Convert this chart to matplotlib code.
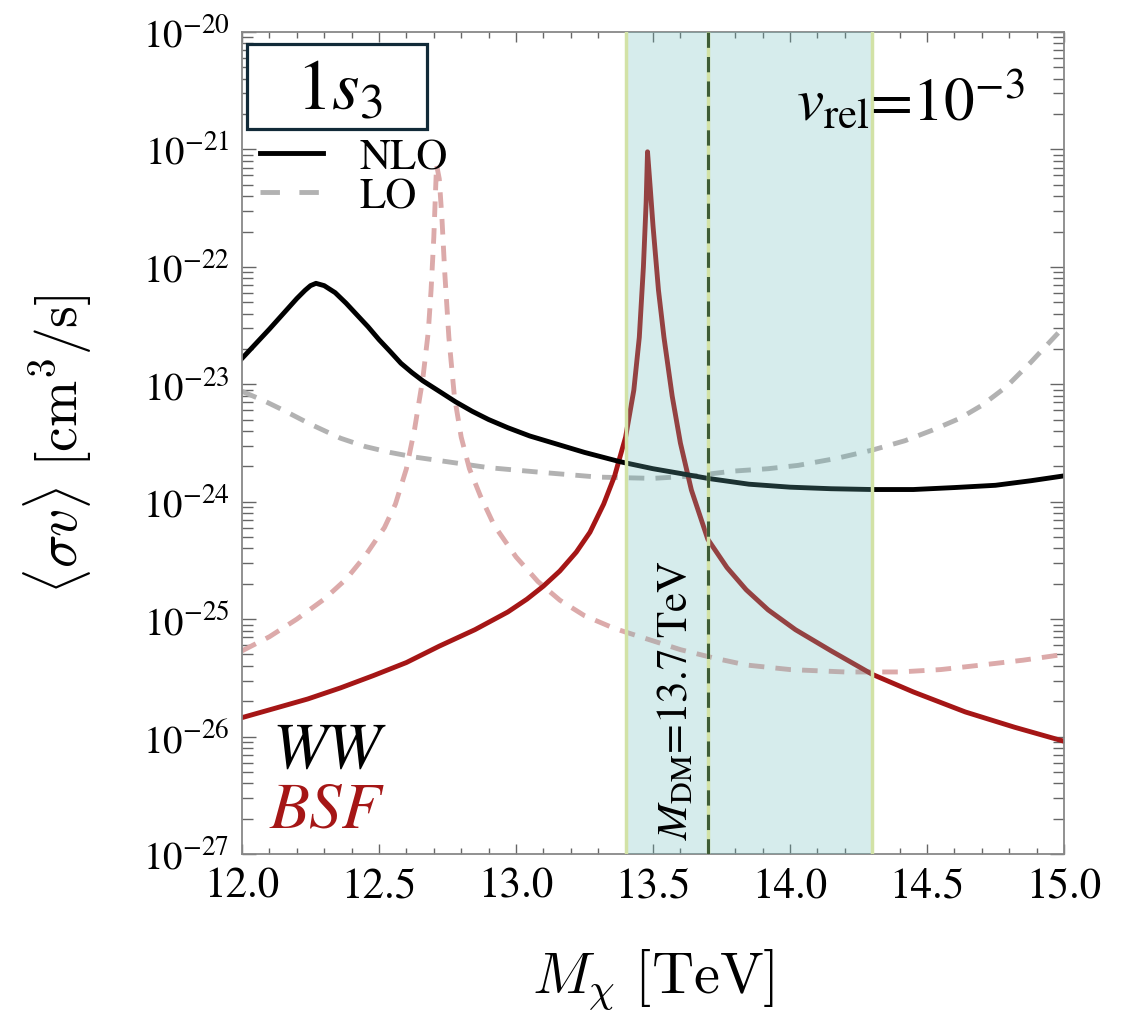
import matplotlib.pyplot as plt
import numpy as np
from matplotlib.patches import Rectangle
from matplotlib.lines import Line2D
from matplotlib.ticker import MultipleLocator, LogLocator, NullFormatter, FormatStrFormatter

plt.rcParams['font.family'] = 'STIXGeneral'
plt.rcParams['mathtext.fontset'] = 'stix'

# WW annihilation, NLO (solid black)
m_ww_nlo = [12.00, 12.10, 12.20, 12.23, 12.25, 12.27, 12.30, 12.34, 12.38, 12.42, 12.46, 12.50,
            12.54, 12.58, 12.62, 12.66, 12.72, 12.78, 12.84, 12.90, 12.97, 13.05, 13.15, 13.25,
            13.38, 13.50, 13.60, 13.70, 13.85, 14.00, 14.15, 14.30, 14.45, 14.60, 14.75, 14.88, 15.00]
sv_ww_nlo = [1.66e-23, 2.95e-23, 5.37e-23, 6.31e-23, 6.92e-23, 7.24e-23, 6.92e-23, 6.03e-23,
             4.90e-23, 3.89e-23, 3.09e-23, 2.40e-23, 1.91e-23, 1.51e-23, 1.26e-23, 1.07e-23,
             8.71e-24, 7.08e-24, 5.89e-24, 5.01e-24, 4.27e-24, 3.63e-24, 3.09e-24, 2.63e-24,
             2.19e-24, 1.91e-24, 1.74e-24, 1.58e-24, 1.41e-24, 1.33e-24, 1.29e-24, 1.27e-24,
             1.27e-24, 1.32e-24, 1.38e-24, 1.51e-24, 1.66e-24]

# WW annihilation, LO (dashed grey)
m_ww_lo = [12.00, 12.08, 12.15, 12.25, 12.36, 12.45, 12.54, 12.63, 12.72, 12.90, 13.09, 13.30,
           13.50, 13.65, 13.79, 13.92, 14.03, 14.17, 14.30, 14.42, 14.52, 14.62, 14.70, 14.79,
           14.88, 14.94, 15.00]
sv_ww_lo = [8.71e-24, 7.24e-24, 6.03e-24, 4.57e-24, 3.47e-24, 2.95e-24, 2.63e-24, 2.40e-24,
            2.24e-24, 1.95e-24, 1.78e-24, 1.62e-24, 1.58e-24, 1.66e-24, 1.82e-24, 1.91e-24,
            2.04e-24, 2.34e-24, 2.75e-24, 3.31e-24, 4.07e-24, 5.13e-24, 6.61e-24, 9.55e-24,
            1.55e-23, 2.19e-23, 3.09e-23]

# bound-state formation, NLO (solid red)
m_bsf_nlo = [12.00, 12.12, 12.24, 12.36, 12.48, 12.60, 12.72, 12.85, 12.97, 13.04, 13.10, 13.16,
             13.22, 13.27, 13.32, 13.36, 13.40, 13.43, 13.45, 13.465, 13.475, 13.48, 13.49, 13.50,
             13.52, 13.54, 13.57, 13.60, 13.64, 13.70, 13.77, 13.84, 13.92, 14.02, 14.15, 14.30,
             14.45, 14.64, 14.82, 15.00]
sv_bsf_nlo = [1.45e-26, 1.74e-26, 2.09e-26, 2.60e-26, 3.31e-26, 4.27e-26, 5.89e-26, 8.13e-26,
              1.15e-25, 1.48e-25, 1.91e-25, 2.57e-25, 3.72e-25, 5.50e-25, 9.55e-25, 1.66e-24,
              3.55e-24, 8.91e-24, 2.51e-23, 1.0e-22, 3.55e-22, 9.55e-22, 4.68e-22, 2.24e-22,
              6.31e-23, 2.51e-23, 7.94e-24, 3.16e-24, 1.26e-24, 4.79e-25, 2.75e-25, 1.78e-25,
              1.20e-25, 8.13e-26, 5.37e-26, 3.39e-26, 2.40e-26, 1.62e-26, 1.20e-26, 9.12e-27]

# bound-state formation, LO (dashed pink)
m_bsf_lo = [12.00, 12.10, 12.20, 12.30, 12.38, 12.45, 12.52, 12.56, 12.60, 12.63, 12.66, 12.68,
            12.69, 12.70, 12.71, 12.72, 12.73, 12.74, 12.755, 12.775, 12.80, 12.83, 12.87, 12.92,
            13.00, 13.08, 13.16, 13.25, 13.36, 13.48, 13.60, 13.72, 13.84, 14.00, 14.20, 14.40,
            14.55, 14.70, 14.85, 15.00]
sv_bsf_lo = [5.37e-26, 7.08e-26, 1.0e-25, 1.48e-25, 2.19e-25, 3.47e-25, 6.03e-25, 9.55e-25,
             1.91e-24, 4.17e-24, 1.12e-23, 2.82e-23, 6.31e-23, 1.78e-22, 7.41e-22, 5.62e-22,
             2.51e-22, 8.91e-23, 2.51e-23, 7.94e-24, 3.55e-24, 1.91e-24, 1.12e-24, 6.31e-25,
             3.39e-25, 2.09e-25, 1.45e-25, 1.07e-25, 8.32e-26, 6.76e-26, 5.50e-26, 4.68e-26,
             4.07e-26, 3.72e-26, 3.55e-26, 3.55e-26, 3.72e-26, 4.07e-26, 4.47e-26, 5.01e-26]

band = (13.4, 14.3)
m_dm = 13.7

fig = plt.figure(figsize=(11.22, 10.2), dpi=100)
ax = fig.add_axes([242/1122, 1 - 855/1020, 822/1122, 822/1020])

lw = 3.5
dash = (3.2, 2.3)
ax.plot(m_ww_lo, sv_ww_lo, color='#b2b2b2', lw=lw, dashes=dash, zorder=2)
ax.plot(m_bsf_lo, sv_bsf_lo, color='#dcaaaa', lw=lw, dashes=dash, zorder=2)
ax.plot(m_ww_nlo, sv_ww_nlo, color='black', lw=lw, zorder=2.2)
ax.plot(m_bsf_nlo, sv_bsf_nlo, color='#a51616', lw=lw, zorder=2.1)

ax.axvspan(band[0], band[1], color='#69b9b9', alpha=0.27, lw=0, zorder=3)
for xv in (band[0], m_dm, band[1]):
    ax.axvline(xv, color='#d2e2a6', lw=2.5, zorder=3.5)
ax.axvline(m_dm, color='#3e5c36', lw=2.2, dashes=(5, 3), zorder=4)

ax.set_yscale('log')
ax.set_xlim(12, 15)
ax.set_ylim(1e-27, 1e-20)

ax.xaxis.set_major_locator(MultipleLocator(0.5))
ax.xaxis.set_minor_locator(MultipleLocator(0.1))
ax.xaxis.set_major_formatter(FormatStrFormatter('%.1f'))
ax.yaxis.set_major_locator(LogLocator(base=10, numticks=20))
ax.yaxis.set_minor_locator(LogLocator(base=10, subs=np.arange(2, 10), numticks=20))
ax.yaxis.set_minor_formatter(NullFormatter())

ax.tick_params(which='both', direction='in', top=True, right=True, color='#666666', width=1)
ax.tick_params(axis='x', which='major', length=7, pad=9, labelsize=31)
ax.tick_params(axis='x', which='minor', length=4)
ax.tick_params(axis='y', which='major', length=10, pad=9, labelsize=28)
ax.tick_params(axis='y', which='minor', length=8)
for s in ax.spines.values():
    s.set_color('#888888')
    s.set_linewidth(1.3)

ax.set_xlabel(r'$M_\chi\ [\mathrm{TeV}]$', fontsize=42, math_fontfamily='cm')
ax.xaxis.set_label_coords(0.5, -0.112)
ax.set_ylabel(r'$\langle\sigma v\rangle\ [\mathrm{cm}^3/\mathrm{s}]$', fontsize=40,
              math_fontfamily='cm')
ax.yaxis.set_label_coords(-0.224, 0.5)
ax.yaxis.label.set_verticalalignment('center')

# state label box
ax.add_patch(Rectangle((0.006, 0.882), 0.219, 0.1034, transform=ax.transAxes,
                       facecolor='white', edgecolor='#112a38', lw=2.3, zorder=6))
ax.text(0.118, 0.907, r'$1s_3$', transform=ax.transAxes, fontsize=51,
        ha='center', va='baseline', zorder=7)

ax.text(0.9526, 0.894, r'$v_{\mathrm{rel}}$=10$^{-3}$', transform=ax.transAxes,
        fontsize=44, ha='right', va='baseline', zorder=7)

ax.text(13.585, 1.35e-27, r'$M_{\mathrm{DM}}$=13.7 TeV', rotation=90, fontsize=31,
        ha='center', va='bottom', zorder=7)

ax.text(0.037, 0.106, 'WW', style='italic', transform=ax.transAxes, fontsize=47,
        color='black', ha='left', va='baseline', zorder=7)
ax.text(0.034, 0.034, 'BSF', style='italic', transform=ax.transAxes, fontsize=47,
        color='#a51616', ha='left', va='baseline', zorder=7)

handles = [Line2D([], [], color='black', lw=lw),
           Line2D([], [], color='#b2b2b2', lw=lw, dashes=(4, 4))]
ax.legend(handles, ['NLO', 'LO'], loc='upper left', bbox_to_anchor=(0.022, 0.871),
          frameon=False, fontsize=31, handlelength=1.45, handletextpad=0.85,
          labelspacing=0.0, borderpad=0, borderaxespad=0)

fig.savefig('out.png', dpi=100)
